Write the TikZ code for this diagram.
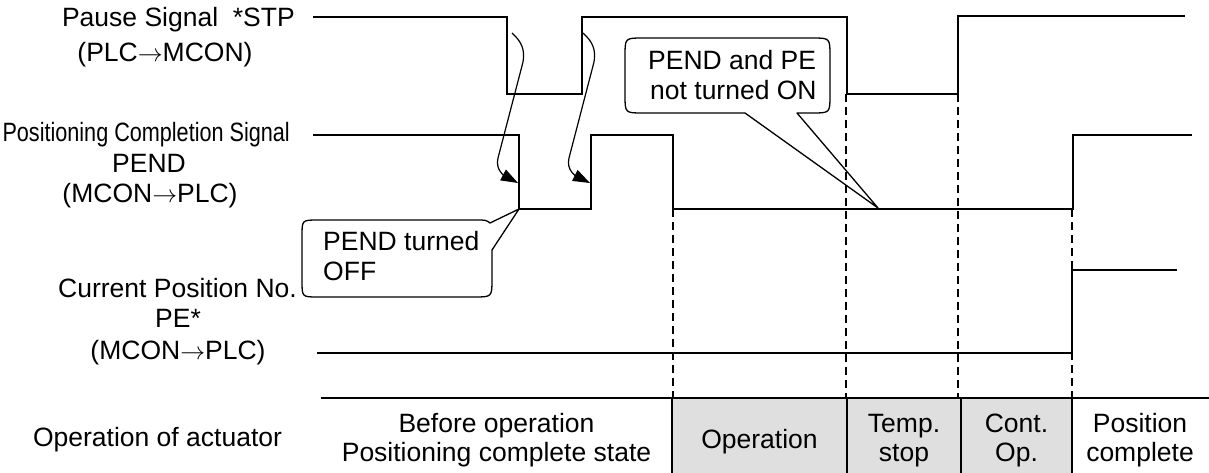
\documentclass[tikz,border=0pt]{standalone}
\usepackage{fontspec}
\setmainfont{Liberation Sans}
\usetikzlibrary{arrows.meta}
\definecolor{cellgray}{RGB}{223,223,223}
\newcommand{\sendto}{\ensuremath{\rightarrow}}
\begin{document}
\begin{tikzpicture}[x=1pt,y=-1pt,
  lbl/.style={inner sep=0pt, font=\fontsize{26.5}{31}\selectfont},
  sig/.style={line width=2pt, line join=miter},
  guide/.style={line width=1.4pt, dash pattern=on 8pt off 5pt},
  callout/.style={line width=1.3pt, line join=round},
  cause/.style={line width=1.2pt, -{Triangle[length=17pt,width=12pt]}},
  rulebar/.style={line width=2pt}]
\useasboundingbox (0,0) rectangle (1209,473);

% table shading
\fill[cellgray] (672,398) rectangle (1072,473);

% signal labels
\node[lbl, anchor=base east] (stpA) at (295,27) {Pause Signal\ \ *STP};
\node[lbl, anchor=base] (stpB) at (165,62) {(PLC\sendto MCON)};
\node[lbl, anchor=base east] (pendA) at (290,142) {\scalebox{0.816}[1]{Positioning Completion Signal}};
\node[lbl, anchor=base] (pendB) at (149,173) {PEND};
\node[lbl, anchor=base] (pendC) at (150,203) {(MCON\sendto PLC)};
\node[lbl, anchor=base] (peA) at (177.5,297) {Current Position No.};
\node[lbl, anchor=base] (peB) at (178,327) {PE*};
\node[lbl, anchor=base] (peC) at (178,359) {(MCON\sendto PLC)};
\node[lbl, anchor=base] (opA) at (157.5,446) {Operation of actuator};

% waveforms
\draw[sig] (313,17) -- (507,17) -- (507,94) -- (582,94) -- (582,17) -- (847,17) -- (847,94) -- (958,94) -- (958,16) -- (1185,16);
\draw[sig] (313,135) -- (519,135) -- (519,209) -- (591,209) -- (591,135) -- (673,135) -- (673,209) -- (1073,209) -- (1073,135) -- (1192,135);
\draw[line width=1.7pt] (317,353) -- (1072,353) -- (1072,270) -- (1177,270);

% guide lines
\draw[guide] (673,209) -- (673,398);
\draw[guide] (846,94) -- (846,398);
\draw[guide] (958,94) -- (958,398);
\draw[guide] (1072,209) -- (1072,398);

% table
\draw[rulebar] (321,398) -- (1209,398);
\foreach \xx in {672,847,961,1072} \draw[rulebar] (\xx,398) -- (\xx,473);

\node[lbl, anchor=base] (c1a) at (496.5,432) {Before operation};
\node[lbl, anchor=base] (c1b) at (496.5,461) {Positioning complete state};
\node[lbl, anchor=base] (c2) at (759.5,448) {Operation};
\node[lbl, anchor=base] (c3a) at (904,432) {Temp.};
\node[lbl, anchor=base] (c3b) at (904,461) {stop};
\node[lbl, anchor=base] (c4a) at (1016.5,432) {Cont.};
\node[lbl, anchor=base] (c4b) at (1016.5,461) {Op.};
\node[lbl, anchor=base] (c5a) at (1140,432) {Position};
\node[lbl, anchor=base] (c5b) at (1140,461) {complete};

% cause arrows
\coordinate (a1s) at (512,33);
\coordinate (a1e) at (518,183);
\coordinate (a2s) at (583,33);
\coordinate (a2e) at (590,183);
\draw[cause] (a1s) .. controls (522,42) and (525,50) .. (523,62) -- (498,158) .. controls (495,170) and (505,176) .. (a1e);
\draw[cause] (a2s) .. controls (593,42) and (596,50) .. (594,62) -- (569,158) .. controls (566,170) and (576,176) .. (a2e);

% callout 1
\coordinate (t1) at (519,209);
\draw[callout] (318,220) -- (476,220) .. controls (486,220) .. (490,223) -- (t1) -- (492,250) -- (492,279) .. controls (492,297) .. (474,297) -- (318,297) .. controls (302,297) .. (302,281) -- (302,236) .. controls (302,220) .. (318,220) -- cycle;
\node[lbl, anchor=base west] (k1a) at (323,250) {PEND turned};
\node[lbl, anchor=base west] (k1b) at (323,280) {OFF};

% callout 2
\coordinate (t2) at (878,208);
\draw[callout] (643,38) -- (812,38) .. controls (830,38) .. (830,56) -- (830,95) .. controls (830,113) .. (812,113) -- (797,113) -- (t2) -- (745,113) -- (643,113) .. controls (625,113) .. (625,95) -- (625,56) .. controls (625,38) .. (643,38) -- cycle;
\node[lbl, anchor=base west] (k2a) at (648,70) {PEND and PE};
\node[lbl, anchor=base west] (k2b) at (650,100) {not turned ON};
\end{tikzpicture}
\end{document}
